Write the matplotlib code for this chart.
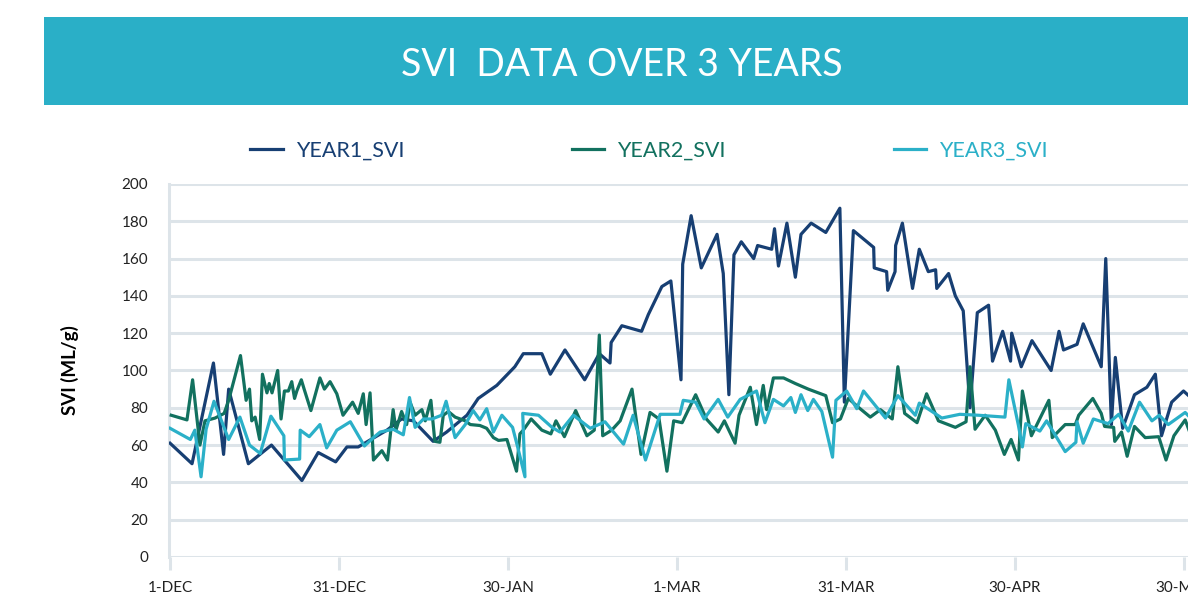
import matplotlib
matplotlib.use("Agg")
import matplotlib.pyplot as plt
from matplotlib.patches import Rectangle

plt.rcParams["font.family"] = ["Lato", "DejaVu Sans"]

# sample times in days since 1-Dec, SVI in mL/g
year1_day = [0, 3.9, 7.7, 9.5, 10.4, 13.9, 18, 23.4, 26.3, 29.4, 31.4, 33.4, 38.5, 41.1, 43.2,
             46.7, 49.1, 52.7, 54.7, 58, 61.2, 62.7, 66, 67.5, 70.1, 73.6, 76.2, 78.1, 78.3, 80.2,
             83.7, 84.9, 87.3, 88.9, 90.7, 91, 92.5, 94.3, 97.1, 98.2, 99.2, 100.1, 101.4, 103.6,
             104.3, 106.8, 107.3, 108, 109.5, 111, 112, 113.8, 116.4, 118.9, 119.7, 121.3, 124.9,
             125, 127.2, 127.4, 128.7, 128.8, 130, 131.8, 133, 134.6, 135.9, 136.1, 138.2, 139.4,
             140.8, 142, 143.3, 145.3, 146, 147.8, 149.2, 149.4, 151.1, 153, 156.4, 157.8, 158.6,
             161, 162.1, 165.3, 166.1, 167.1, 167.8, 169.1, 171.2, 173.4, 174.9, 176, 177.8,
             179.9, 181]
year1_svi = [61, 50, 104, 55, 90, 50, 60, 41, 56, 51, 59, 59, 68, 74, 73,
             62, 67, 76, 85, 92, 102, 109, 109, 98, 111, 95, 109, 104, 115, 124,
             121, 130, 145, 148, 95, 157, 183, 155, 173, 152, 87, 162, 169, 160,
             167, 165, 176, 156, 179, 150, 173, 179, 174, 187, 83, 175, 166,
             155, 153, 143, 153, 167, 179, 144, 165, 153, 154, 144, 152, 140,
             132, 80, 131, 135, 105, 121, 105, 120, 102, 116, 100, 121, 111,
             114, 125, 102, 160, 71, 107, 69, 87, 91, 98, 65, 83,
             89, 86]

year2_day = [0.2, 3, 4, 5.3, 6.2, 8, 9.6, 10.4, 12.5, 13.5, 14.1, 14.5, 15.1, 15.9, 16.4, 17.2,
             17.6, 18.1, 19.1, 19.7, 20.3, 21, 21.6, 22.1, 22.5, 23.3, 23.8, 25, 26.6, 27.4, 28.4,
             29.6, 30.7, 32.4, 33.4, 34.3, 34.8, 35.5, 36.1, 37.6, 38.6, 39.6, 40.1, 41.1, 42,
             42.6, 43.5, 44.7, 45.3, 46.3, 47, 47.9, 48.5, 49.4, 50.6, 52.4, 53.3, 55, 56.2, 57.4,
             58.3, 59.8, 61.5, 62.1, 62.7, 64.1, 66, 67.6, 68.5, 70, 72, 74, 75.3, 76.2, 76.8,
             78.4, 79.9, 82, 83.6, 85.2, 86.8, 88.2, 89.4, 90.9, 93.3, 95.2, 97.3, 98.4, 100.3,
             101, 103, 104.1, 105.3, 105.9, 107.1, 108.9, 111, 113.3, 116.4, 117.6, 119, 120.4,
             122.3, 124.3, 126.1, 128.2, 129.2, 130.4, 132.6, 134.3, 136.4, 139.4, 141.3, 142,
             142.9, 144.7, 146.5, 148.1, 149.3, 150.6, 151.3, 152.9, 156, 156.6, 158.9, 160.7,
             161.3, 163.8, 165.3, 165.9, 167.5, 167.7, 168.9, 169.9, 171.2, 173.1, 175.5, 176.8,
             178.2, 180.2, 181]
year2_svi = [76, 73.5, 95, 60, 73, 74.5, 77, 84, 108, 84, 90, 73, 75, 63, 98, 88,
             93, 88, 100, 74, 89, 89, 94, 85, 89, 95, 90, 78.5, 96, 90, 94,
             87.5, 76, 83, 77, 87.5, 71, 88, 52, 57, 52, 79, 68, 78, 71,
             83, 76, 79, 73, 84, 62, 61.5, 76, 78, 75, 73, 71, 70.5, 69, 64,
             62.5, 63, 46, 66, 68, 74, 68, 66, 73, 64.5, 78.5, 65, 68, 119, 65,
             68, 73, 90, 55, 77.5, 74, 46, 73, 72, 87, 74, 67, 73, 61,
             76, 91, 71, 92, 79, 96, 96, 93, 90, 86.5, 72, 74, 85,
             80, 75, 79, 74, 102, 77, 72, 87.5, 73, 69.5, 72.5, 102,
             68.5, 76, 68, 55, 63, 52, 89, 65, 84, 64, 71, 71,
             76, 85, 77, 70, 69.5, 62, 67, 54, 70, 64, 64.5, 52,
             65, 73.5, 67]

year3_day = [0, 3.6, 4.4, 5.5, 6.4, 7.8, 9, 10.4, 12.4, 14.1, 16, 17.9, 20.2, 20.3, 23, 23.1,
             24.7, 26.6, 27.8, 29.6, 32, 34.5, 36.1, 37.3, 39.6, 41.4, 42.5, 43.5, 45, 46.5, 48.2,
             49, 50.6, 52.4, 53.8, 55, 56.2, 57.4, 58.9, 60.8, 61.7, 63, 62.6, 65.4, 67.8, 69.2,
             71.6, 74.6, 77.2, 80.5, 82.2, 84.4, 87, 90.5, 91.1, 93.3, 94.8, 97.3, 99, 101.2,
             104.1, 105.6, 107.1, 108.9, 110.2, 111, 112, 113.2, 114.2, 115.7, 117.6, 118.2,
             120.1, 121.9, 123.1, 127, 129.2, 132.3, 133, 137, 140.2, 143.5, 148.2, 148.9, 150.6,
             151.3, 151.9, 154.4, 155.6, 158.9, 160.8, 161, 162.1, 163.9, 166.5, 168.4, 170.1,
             172.1, 174.3, 175.6, 177.2, 180.2, 181]
year3_svi = [69, 63, 68, 43, 68.5, 83.5, 74, 63, 75, 60, 55.5, 75.5, 65, 52, 52.5, 68,
             64.5, 71, 58.5, 68, 72.5, 59.5, 64, 67, 68.5, 65.5, 85.5, 69.5, 74, 74, 76,
             83.5, 64, 71, 78.5, 73.5, 79.5, 67, 76, 69.5, 59, 43, 77, 76, 69.5, 67,
             76, 69, 72.5, 60.5, 76, 52, 76.5, 76.5, 84, 83, 74, 84.5, 75, 84.5,
             89, 72, 84.5, 81, 85.5, 77.5, 87, 78.5, 84.5, 78, 53.5, 84,
             89, 79.5, 89, 74.5, 86.5, 76, 82.5, 74.5, 76.5, 76, 75, 95, 70.5,
             59, 71.5, 67.5, 73, 56.5, 61.5, 72.5, 61, 74, 71.5, 76.5, 67.5,
             83, 73, 76, 71, 77.5, 75]

tick_days = [0, 30, 60, 90, 120, 150, 180]
tick_labels = ["1-DEC", "31-DEC", "30-JAN", "1-MAR", "31-MAR", "30-APR", "30-MAY"]
y_ticks = list(range(0, 201, 20))

NAVY = "#173f73"
GREEN = "#12715f"
CYAN = "#2bb0c8"
GRID = "#dde4e9"

fig = plt.figure(figsize=(11.88, 5.95), dpi=100)

# title banner
fig.patches.append(Rectangle((0.037, 0.8235), 1.0, 0.148, transform=fig.transFigure,
                             facecolor="#2aafc7", edgecolor="none", zorder=0))
fig.text(0.523, 0.891, "SVI  DATA OVER 3 YEARS", color="white", fontsize=27,
         ha="center", va="center")

ax = fig.add_axes([0.1423, 0.0639, 0.8577, 0.6269])
ax.plot(year1_day, year1_svi, color=NAVY, lw=2.3, label="YEAR1_SVI", zorder=3)
ax.plot(year2_day, year2_svi, color=GREEN, lw=2.3, label="YEAR2_SVI", zorder=3)
ax.plot(year3_day, year3_svi, color=CYAN, lw=2.3, label="YEAR3_SVI", zorder=3)

ax.set_xlim(-0.18, 180.7)
ax.set_ylim(0, 200)
ax.set_yticks(y_ticks)
ax.set_xticks(tick_days)
ax.set_xticklabels(tick_labels)
ax.grid(axis="y", color=GRID, lw=2.2, zorder=0)
ax.set_axisbelow(True)

for side in ["top", "right", "bottom"]:
    ax.spines[side].set_visible(False)
ax.spines["left"].set_color(GRID)
ax.spines["left"].set_linewidth(2.2)

ax.tick_params(axis="y", length=0, pad=15, labelsize=11, labelcolor="#222222")
ax.tick_params(axis="x", length=9.5, width=2.2, color=GRID, pad=8, labelsize=11,
               labelcolor="#222222")

ax.set_ylabel("SVI (ML/g)", fontsize=13.5, fontweight="bold")
ax.yaxis.set_label_coords(-0.088, 0.5)

fig.legend(loc="center", bbox_to_anchor=(649 / 1188, 1 - 151 / 595), ncol=3,
           frameon=False, fontsize=15.5, handlelength=1.5, handletextpad=0.6,
           columnspacing=7.8, labelcolor="linecolor")

fig.savefig("out.png", dpi=100)
